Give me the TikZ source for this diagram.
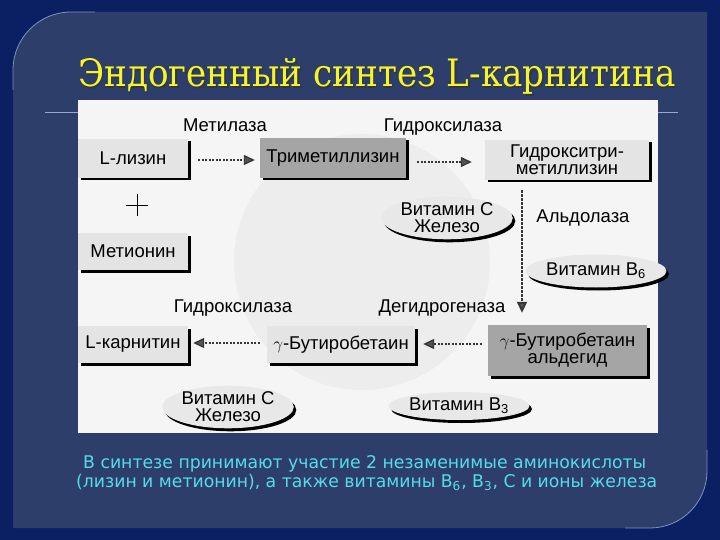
\documentclass[tikz,border=0pt]{standalone}
\usepackage{graphicx}
\usepackage{fontspec}
\setmainfont{Liberation Sans}
\newfontfamily\titlefont{DejaVu Serif}
\newfontfamily\notefont{DejaVu Sans}
\usetikzlibrary{shapes.geometric,arrows.meta,shadows}
\definecolor{outerbg}{RGB}{10,32,98}
\definecolor{panelbg}{RGB}{46,62,106}
\definecolor{paneledge}{RGB}{125,145,195}
\definecolor{titleyel}{RGB}{245,245,45}
\definecolor{notecyan}{RGB}{85,220,232}
\definecolor{imgbg}{RGB}{245,245,245}
\definecolor{imgcircle}{RGB}{237,237,237}
\definecolor{lightbox}{RGB}{228,228,228}
\definecolor{darkbox}{RGB}{165,165,165}
\definecolor{ellfill}{RGB}{232,232,232}
\definecolor{arrowgray}{RGB}{55,55,55}
\begin{document}
\begin{tikzpicture}[x=1pt,y=-1pt,
  dtext/.style={font=\fontsize{18.5}{17}\selectfont, text=black, inner sep=0pt},
  stepbox/.style={dtext, rectangle, align=center,
    drop shadow={shadow xshift=2.5pt, shadow yshift=-2.5pt, fill=black, opacity=1}},
  lightstep/.style={stepbox, fill=lightbox},
  darkstep/.style={stepbox, fill=darkbox},
  vitell/.style={dtext, ellipse, fill=ellfill, align=center,
    drop shadow={shadow xshift=2.5pt, shadow yshift=-3pt, fill=black, opacity=1}},
  darrow/.style={arrowgray, line width=1.3pt, dash pattern=on 2.2pt off 1.3pt,
    -{Triangle[length=11pt,width=10pt,fill=arrowgray!85]}},
]
\useasboundingbox (0,0) rectangle (720,540);
% slide background
\fill[outerbg] (0,0) rectangle (720,540);
\fill[panelbg] (13,528) -- (13,70) .. controls (13,38) and (39,12) .. (71,12)
  -- (707,12) -- (707,471) .. controls (707,502.5) and (681.5,528) .. (650,528) -- cycle;
\draw[paneledge, line width=0.8pt] (13,90) -- (13,70) .. controls (13,38) and (39,12) .. (71,12) -- (95,12);
\draw[paneledge, line width=0.8pt] (707,450) -- (707,471) .. controls (707,502.5) and (681.5,528) .. (650,528) -- (625,528);
% title
\node[anchor=base west, inner sep=0pt, text=black!80, opacity=0.7] at (79.5,88.5)
  {\resizebox{597pt}{28pt}{\titlefont Эндогенны\smash{й} синтез L-карнитина}};
\node[anchor=base west, inner sep=0pt, text=titleyel] (title) at (78,87)
  {\resizebox{597pt}{28pt}{\titlefont Эндогенны\smash{й} синтез L-карнитина}};
\draw[paneledge!80!white, line width=0.8pt] (45,112) -- (678,112);
% picture area
\fill[imgbg] (78,100) rectangle (658,433);
\fill[imgcircle] (362,262) circle[radius=128];
% boxes
\node[lightstep, minimum width=110pt, minimum height=39pt] (lys) at (133,158.5) {L-лизин};
\node[darkstep, minimum width=146pt, minimum height=40pt] (tml) at (333,158) {Триметиллизин};
\node[lightstep, minimum width=164pt, minimum height=40pt] (html) at (567,160) {Гидрокситри-\\метиллизин};
\node[lightstep, minimum width=110pt, minimum height=37pt] (met) at (133,251.5) {Метионин};
\node[lightstep, minimum width=110pt, minimum height=37pt] (carn) at (133,344.5) {L-карнитин};
\node[lightstep, minimum width=148pt, minimum height=37pt] (gbb) at (341,344.5) {$\gamma$-Бутиробетаин};
\node[darkstep, minimum width=159pt, minimum height=51pt] (gbba) at (567.5,350.5) {$\gamma$-Бутиробетаин\\альдегид};
% plus
\draw[black, line width=0.9pt] (126,205) -- (148,205) (137,194) -- (137,216);
% enzyme labels
\node[dtext] (metilaza) at (225,125) {Метилаза};
\node[dtext] (hydr1) at (443,127) {Гидроксилаза};
\node[dtext] (aldol) at (583,218) {Альдолаза};
\node[dtext] (dehyd) at (442,308) {Дегидрогеназа};
\node[dtext] (hydr2) at (233,308) {Гидроксилаза};
% cofactors
\node[vitell, minimum width=108pt, minimum height=40pt] (vitc1) at (447,218) {Витамин С\\Железо};
\node[vitell, minimum width=122pt, minimum height=33pt] (vitb6) at (596,271) {Витамин В\textsubscript{6}};
\node[vitell, minimum width=110pt, minimum height=38pt] (vitc2) at (228,407) {Витамин С\\Железо};
\node[vitell, minimum width=114pt, minimum height=28pt] (vitb3) at (459,406) {Витамин В\textsubscript{3}};
% arrows
\draw[darrow] ([xshift=10pt,yshift=-1.5pt]lys.east) -- ([xshift=-5pt,yshift=-2pt]tml.west);
\draw[darrow] ([xshift=11pt,yshift=-4pt]tml.east) -- ([xshift=-13pt,yshift=-2pt]html.west);
\draw[darrow, line width=2pt, dash pattern=on 2.5pt off 1.5pt] ([xshift=-45pt,yshift=-10pt]html.south) -- ([xshift=-45.5pt,yshift=12pt]gbba.north);
\draw[darrow] ([xshift=-6pt,yshift=6.5pt]gbba.west) -- ([xshift=8pt,yshift=0.5pt]gbb.east);
\draw[darrow] ([xshift=-7pt,yshift=1.5pt]gbb.west) -- ([xshift=5pt,yshift=1.5pt]carn.east);
% note
\node[anchor=base west, inner sep=0pt, text=notecyan] (note1) at (83,468)
  {\resizebox{563pt}{13pt}{\notefont В синтезе принимают участие 2 незаменимые аминокислоты}};
\node[anchor=base west, inner sep=0pt, text=notecyan] (note2) at (76,487)
  {\resizebox{581pt}{13pt}{\notefont \smash{(}лизин и метионин\smash{)}, а также витамины В\textsubscript{6}, В\textsubscript{3}, С и ионы железа}};
\end{tikzpicture}
\end{document}
